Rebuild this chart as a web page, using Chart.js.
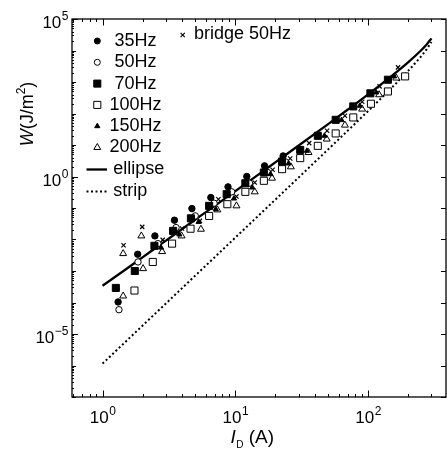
<!DOCTYPE html>
<html>
<head>
<meta charset="utf-8">
<script src="https://cdn.jsdelivr.net/npm/chart.js@4"></script>
<style>
html, body { margin: 0; padding: 0; background: #fff; overflow: hidden; }
</style>
</head>
<body>
<canvas id="myChart" width="452" height="451"></canvas>
<script>
// measured points, I_D (A) vs W (J/m^2)
const hz35X = [1.31, 1.84, 2.48, 3.48, 4.71, 6.54, 8.81, 12.2, 16.6, 22.9];
const hz35Y = [1.04e-4, 3.4e-3, 0.013, 0.041, 0.096, 0.215, 0.47, 1.0, 2.18, 4.5];
const hz50X = [1.33, 1.85, 2.61, 3.58, 4.99, 6.92, 9.39, 12.8, 17.5, 23.8];
const hz50Y = [5.9e-5, 1.94e-3, 7.4e-3, 0.0239, 0.0562, 0.142, 0.326, 0.614, 1.34, 2.92];
const hz70X = [1.26, 1.75, 2.46, 3.40, 4.63, 6.35, 8.61, 11.9, 16.4, 22.5, 30.8, 41.8, 57.0, 77.3, 104, 141];
const hz70Y = [2.9e-4, 1.0e-3, 6.3e-3, 0.0188, 0.047, 0.117, 0.275, 0.61, 1.34, 3.0, 7.0, 19.6, 63, 168, 437, 1180];
const hz100X = [1.74, 2.39, 3.34, 4.60, 6.35, 8.71, 11.9, 16.4, 22.5, 30.8, 41.8, 57.0, 77.3, 105, 141, 190];
const hz100Y = [2.4e-4, 1.94e-3, 7.4e-3, 0.022, 0.056, 0.132, 0.326, 0.73, 1.71, 3.83, 9.4, 23.3, 75, 204, 501, 1507];
const hz150X = [2.76, 3.79, 5.29, 7.13, 9.77, 13.4, 18.4, 25.2, 34.6, 46.9, 63.1, 86.6, 115, 157];
const hz150Y = [5.54e-3, 0.0144, 0.0362, 0.0916, 0.2, 0.447, 1.19, 2.59, 6.54, 19.6, 61.7, 176, 467, 1507];
const hz200X = [1.43, 1.43, 1.96, 2.02, 2.81, 3.94, 5.51, 7.33, 10.2, 14.0, 18.9, 26.2, 35.6, 48.8, 66.9, 90.2, 121, 163];
const hz200Y = [3.57e-3, 1.61e-4, 0.013, 1.19e-3, 4.14e-3, 0.013, 0.0212, 0.0872, 0.117, 0.326, 0.885, 2.03, 5.79, 15.4, 42.8, 138, 394, 1334];
const bridgeX = [1.44, 1.99, 2.84, 3.97, 5.41, 7.46, 10.2, 14.0, 19.1, 25.9, 36.0, 49.1, 66.9, 90.2, 122, 168];
const bridgeY = [6.57e-3, 0.0251, 9.7e-3, 0.0223, 0.039, 0.19, 0.231, 0.645, 1.63, 3.73, 11.5, 28.3, 84.7, 236, 724, 2911];

// model curves
const curveX = [1, 1.5, 2, 3, 5, 7, 10, 15, 20, 30, 50, 70, 100, 150, 200, 250, 275, 300];
const ellipseY = [3.39e-4, 1.14e-3, 2.71e-3, 9.18e-3, 0.0431, 0.117, 0.344, 1.17, 2.81, 9.62, 46.2, 131.5, 407, 1545, 4227, 1.0e4, 1.52e4, 2.43e4];
const stripY = [1.15e-6, 5.81e-6, 1.84e-5, 9.29e-5, 7.18e-4, 2.75e-3, 0.0115, 0.0581, 0.184, 0.933, 7.26, 28.1, 120, 646, 2249, 6427, 1.07e4, 1.86e4];

const xTickLabels = [[1, '0'], [10, '1'], [100, '2']];
const yTickLabels = [[1e5, '5'], [1, '0'], [1e-5, '\u22125']];
const legendLabels = ['35Hz', '50Hz', '70Hz', '100Hz', '150Hz', '200Hz', 'ellipse', 'strip'];

const pts = (xs, ys) => xs.map((x, i) => ({ x: x, y: ys[i] }));
const FONT = '"Liberation Sans", Arial, sans-serif';

function marker(ctx, style, x, y, r, fill) {
    ctx.save();
    ctx.strokeStyle = '#000';
    ctx.lineWidth = 1;
    ctx.beginPath();
    if (style === 'circle') {
        ctx.arc(x, y, r, 0, Math.PI * 2);
    } else if (style === 'rect') {
        const s = r * Math.SQRT1_2;
        ctx.rect(x - s, y - s, 2 * s, 2 * s);
    } else if (style === 'triangle') {
        ctx.moveTo(x, y - r);
        ctx.lineTo(x + r * 0.866, y + r / 2);
        ctx.lineTo(x - r * 0.866, y + r / 2);
        ctx.closePath();
    } else if (style === 'crossRot') {
        const s = r * Math.SQRT1_2;
        ctx.moveTo(x - s, y - s); ctx.lineTo(x + s, y + s);
        ctx.moveTo(x + s, y - s); ctx.lineTo(x - s, y + s);
        ctx.lineWidth = 1.2;
        ctx.stroke();
        ctx.restore();
        return;
    }
    ctx.fillStyle = fill;
    ctx.fill();
    ctx.stroke();
    ctx.restore();
}

function powLabel(ctx, exp, x, y, align) {
    ctx.font = '17px ' + FONT;
    const wb = ctx.measureText('10').width;
    ctx.font = '12px ' + FONT;
    const we = ctx.measureText(exp).width;
    let x0 = x;
    if (align === 'center') x0 = x - (wb + we) / 2;
    if (align === 'right') x0 = x - (wb + we);
    ctx.textAlign = 'left';
    ctx.textBaseline = 'alphabetic';
    ctx.font = '17px ' + FONT;
    ctx.fillText('10', x0, y);
    ctx.font = '12px ' + FONT;
    ctx.fillText(exp, x0 + wb + 0.5, y - 8);
}

const decorPlugin = {
    id: 'decor',
    afterDraw(chart) {
        const ctx = chart.ctx;
        const a = chart.chartArea;
        const xs = chart.scales.x;
        const ys = chart.scales.y;
        ctx.save();
        ctx.fillStyle = '#000';
        ctx.strokeStyle = '#000';

        // frame
        ctx.lineWidth = 1.3;
        ctx.strokeRect(a.left, a.top, a.right - a.left, a.bottom - a.top);

        // x ticks, bottom and top
        ctx.lineWidth = 1;
        ctx.beginPath();
        for (let d = -1; d <= 2; d++) {
            for (let m = 1; m <= 9; m++) {
                const v = m * Math.pow(10, d);
                if (v < xs.min || v > xs.max) continue;
                const px = Math.round(xs.getPixelForValue(v)) + 0.5;
                const len = m === 1 ? 6.5 : 3;
                ctx.moveTo(px, a.bottom); ctx.lineTo(px, a.bottom - len);
                ctx.moveTo(px, a.top); ctx.lineTo(px, a.top + len);
            }
        }
        // y ticks, left (all) and right (decades)
        for (let d = -7; d <= 5; d++) {
            for (let m = 1; m <= 9; m++) {
                const v = m * Math.pow(10, d);
                if (v < ys.min || v > ys.max) continue;
                const py = Math.round(ys.getPixelForValue(v)) + 0.5;
                let len = 2;
                if (m === 1) len = (d % 5 === 0) ? 6 : 4;
                ctx.moveTo(a.left, py); ctx.lineTo(a.left + len, py);
                if (m === 1) { ctx.moveTo(a.right, py); ctx.lineTo(a.right - 5, py); }
            }
        }
        ctx.stroke();

        // tick labels
        xTickLabels.forEach(([v, e]) => powLabel(ctx, e, xs.getPixelForValue(v), 423, 'center'));
        yTickLabels.forEach(([v, e]) => powLabel(ctx, e, 68, ys.getPixelForValue(v) + 9, 'right'));

        // x title: I_D (A)
        ctx.textBaseline = 'alphabetic';
        ctx.textAlign = 'left';
        ctx.font = 'italic 19px ' + FONT;
        const wI = ctx.measureText('I').width;
        ctx.font = '10px ' + FONT;
        const wD = ctx.measureText('D').width;
        ctx.font = '19px ' + FONT;
        const wA = ctx.measureText(' (A)').width;
        let tx = 252 - (wI + wD + wA) / 2;
        ctx.font = 'italic 19px ' + FONT;
        ctx.fillText('I', tx, 443); tx += wI + 0.5;
        ctx.font = '10px ' + FONT;
        ctx.fillText('D', tx, 448); tx += wD;
        ctx.font = '19px ' + FONT;
        ctx.fillText(' (A)', tx, 443);

        // y title: W(J/m^2)
        ctx.save();
        ctx.translate(33, 114);
        ctx.rotate(-Math.PI / 2);
        ctx.font = 'italic 18px ' + FONT;
        const wW = ctx.measureText('W').width;
        ctx.font = '18px ' + FONT;
        const wJ = ctx.measureText('(J/m').width;
        const wP = ctx.measureText(')').width;
        ctx.font = '12px ' + FONT;
        const w2 = ctx.measureText('2').width;
        let ty = -(wW + wJ + w2 + wP) / 2;
        ctx.font = 'italic 18px ' + FONT;
        ctx.fillText('W', ty, 0); ty += wW;
        ctx.font = '18px ' + FONT;
        ctx.fillText('(J/m', ty, 0); ty += wJ;
        ctx.font = '12px ' + FONT;
        ctx.fillText('2', ty, -8); ty += w2;
        ctx.font = '18px ' + FONT;
        ctx.fillText(')', ty, 0);
        ctx.restore();

        // legend
        const rowY = [41, 62.3, 83.6, 104.9, 126.2, 147.5, 169.5, 191.5];
        const styles = [
            ['circle', 3, '#000'], ['circle', 3, '#fff'], ['rect', 5, '#000'], ['rect', 5, '#fff'],
            ['triangle', 3, '#000'], ['triangle', 4, '#fff']
        ];
        ctx.font = '18px ' + FONT;
        ctx.textBaseline = 'middle';
        for (let i = 0; i < 6; i++) {
            marker(ctx, styles[i][0], 97.3, rowY[i], styles[i][1], styles[i][2]);
            ctx.textAlign = 'center';
            ctx.fillStyle = '#000';
            ctx.fillText(legendLabels[i], 135.5, rowY[i]);
        }
        ctx.textAlign = 'left';
        ctx.lineWidth = 2.3;
        ctx.beginPath();
        ctx.moveTo(86.5, rowY[6]); ctx.lineTo(107, rowY[6]);
        ctx.stroke();
        ctx.fillText(legendLabels[6], 113.3, rowY[6]);
        ctx.lineWidth = 2;
        ctx.setLineDash([2, 2.5]);
        ctx.beginPath();
        ctx.moveTo(86.5, rowY[7]); ctx.lineTo(107, rowY[7]);
        ctx.stroke();
        ctx.setLineDash([]);
        ctx.fillText(legendLabels[7], 113.3, rowY[7]);

        marker(ctx, 'crossRot', 182.7, 35, 3, '#000');
        ctx.fillText('bridge 50Hz', 194, 34);
        ctx.restore();
    }
};

const ctx = document.getElementById('myChart');
new Chart(ctx, {
    type: 'scatter',
    data: {
        datasets: [
            { label: '70Hz', data: pts(hz70X, hz70Y), pointStyle: 'rect', pointRadius: 5, backgroundColor: '#000', borderColor: '#000', borderWidth: 1 },
            { label: '35Hz', data: pts(hz35X, hz35Y), pointStyle: 'circle', pointRadius: 3.2, backgroundColor: '#000', borderColor: '#000', borderWidth: 1 },
            { label: '150Hz', data: pts(hz150X, hz150Y), pointStyle: 'triangle', pointRadius: 3, backgroundColor: '#000', borderColor: '#000', borderWidth: 1 },
            { label: '200Hz', data: pts(hz200X, hz200Y), pointStyle: 'triangle', pointRadius: 4, backgroundColor: '#fff', borderColor: '#000', borderWidth: 1 },
            { label: '50Hz', data: pts(hz50X, hz50Y), pointStyle: 'circle', pointRadius: 3.2, backgroundColor: '#fff', borderColor: '#000', borderWidth: 1 },
            { label: '100Hz', data: pts(hz100X, hz100Y), pointStyle: 'rect', pointRadius: 5, backgroundColor: '#fff', borderColor: '#000', borderWidth: 1 },
            { label: 'bridge 50Hz', data: pts(bridgeX, bridgeY), pointStyle: 'crossRot', pointRadius: 3, borderColor: '#000', borderWidth: 1.2 },
            { label: 'ellipse', data: pts(curveX, ellipseY), showLine: true, pointRadius: 0, borderColor: '#000', borderWidth: 2.3, cubicInterpolationMode: 'monotone' },
            { label: 'strip', data: pts(curveX, stripY), showLine: true, pointRadius: 0, borderColor: '#000', borderWidth: 2, borderDash: [2, 2.5], cubicInterpolationMode: 'monotone' }
        ]
    },
    options: {
        responsive: false,
        animation: false,
        events: [],
        layout: { padding: { left: 72, top: 19, right: 4, bottom: 54 } },
        plugins: { legend: { display: false }, tooltip: { enabled: false } },
        scales: {
            x: { type: 'logarithmic', min: 0.589, max: 386, display: false },
            y: { type: 'logarithmic', min: 1e-7, max: 1e5, display: false }
        }
    },
    plugins: [decorPlugin]
});
</script>
</body>
</html>
